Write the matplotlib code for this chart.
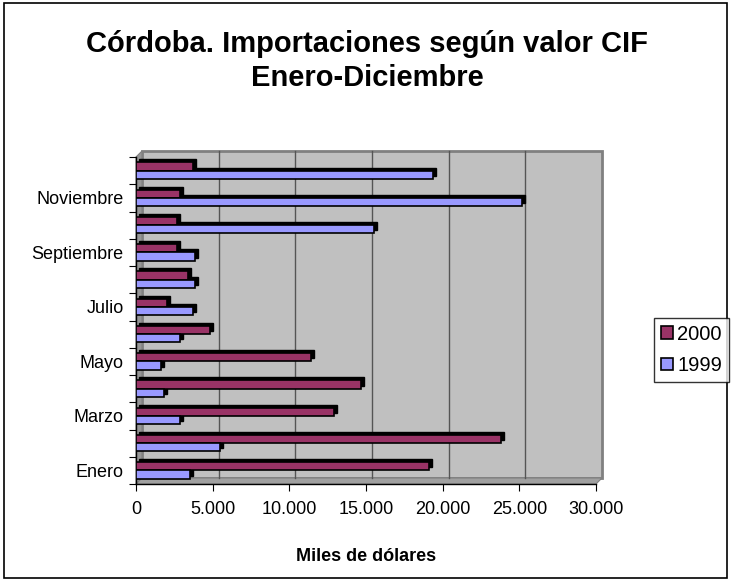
import matplotlib
matplotlib.use("Agg")
import matplotlib.pyplot as plt
import matplotlib.transforms as mtransforms
from matplotlib.patches import Rectangle, Polygon
import numpy as np

plt.rcParams['font.family'] = ['Liberation Sans', 'DejaVu Sans']

# datos (miles de dolares)
meses = ['Enero', 'Febrero', 'Marzo', 'Abril', 'Mayo', 'Junio', 'Julio',
         'Agosto', 'Septiembre', 'Octubre', 'Noviembre', 'Diciembre']
valores_2000 = [19100, 23800, 12900, 14700, 11400, 4800, 2000, 3400, 2700, 2700, 2900, 3700]
valores_1999 = [3500, 5500, 2900, 1800, 1600, 2900, 3700, 3850, 3850, 15500, 25200, 19350]
xticks = [0, 5000, 10000, 15000, 20000, 25000, 30000]

color_2000 = '#993366'
color_1999 = '#9999FF'

fig = plt.figure(figsize=(7.33, 5.84), dpi=100)
W, H = 733, 584

# borde exterior
fig.patches.append(Rectangle((4 / W, 6 / H), 723 / W, 575 / H, transform=fig.transFigure,
                             fill=False, edgecolor='black', linewidth=1.2))

ax = fig.add_axes([136 / W, (H - 484) / H, 460 / W, 327 / H])
ax.set_facecolor('none')
ax.set_xlim(0, 30000)
ax.set_ylim(-0.5, 11.5)

# desplazamiento 3D (pared del fondo)
dx, dy = 6, 6
fondo = mtransforms.offset_copy(ax.transAxes, fig=fig, x=dx, y=dy, units='dots')
ax.add_patch(Rectangle((0, 0), 1, 1, transform=fondo, facecolor='#C0C0C0',
                       edgecolor='#808080', linewidth=2, zorder=0, clip_on=False))
# pared izquierda y piso
ax.add_patch(Polygon([(0, 0), (0, 1), (dx / 460, 1 + dy / 327), (dx / 460, dy / 327)],
                     closed=True, transform=ax.transAxes, facecolor='#969696',
                     edgecolor='#808080', linewidth=0.8, zorder=0.5, clip_on=False))
ax.add_patch(Polygon([(0, 0), (1, 0), (1 + dx / 460, dy / 327), (dx / 460, dy / 327)],
                     closed=True, transform=ax.transAxes, facecolor='#A0A0A0',
                     edgecolor='#808080', linewidth=0.8, zorder=0.5, clip_on=False))

# lineas de la grilla en la pared del fondo
grid_tr = mtransforms.blended_transform_factory(ax.transData, ax.transAxes)
grid_tr = grid_tr + mtransforms.ScaledTranslation(dx / 100, dy / 100, fig.dpi_scale_trans)
for xv in xticks[1:-1]:
    ax.plot([xv, xv], [0, 1], transform=grid_tr, color='#555555', linewidth=1, zorder=1,
            clip_on=False)

y = np.arange(len(meses))
alto = 0.3

# sombras negras de las barras
sombra = mtransforms.offset_copy(ax.transData, fig=fig, x=3, y=3, units='dots')
for vals, off in [(valores_2000, 0.15), (valores_1999, -0.15)]:
    bs = ax.barh(y + off, vals, height=alto, color='black', edgecolor='black', zorder=2)
    for p in bs:
        p.set_transform(sombra)
        p.set_clip_on(False)

ax.barh(y + 0.15, valores_2000, height=alto, color=color_2000, edgecolor='black',
        linewidth=1.2, zorder=3, label='2000')
ax.barh(y - 0.15, valores_1999, height=alto, color=color_1999, edgecolor='black',
        linewidth=1.2, zorder=3, label='1999')

# ejes
ax.set_yticks(np.arange(-0.5, 12, 1))
ax.set_yticklabels([])
ax.set_yticks(y[::2], minor=True)
ax.set_yticklabels(meses[::2], minor=True, fontsize=13)
ax.tick_params(axis='y', which='minor', length=0, pad=9)
ax.tick_params(axis='y', which='major', length=5, direction='out')
ax.set_xticks(xticks)
ax.set_xticklabels([f'{v:,}'.replace(',', '.') for v in xticks], fontsize=13)
ax.tick_params(axis='x', length=5, direction='out', pad=7)
for s in ['top', 'right']:
    ax.spines[s].set_visible(False)
ax.spines['left'].set_linewidth(1)
ax.spines['bottom'].set_linewidth(1)

ax.set_xlabel('Miles de dólares', fontsize=13, fontweight='bold', labelpad=22)

fig.text(367 / W, 1 - 61 / H, 'Córdoba. Importaciones según valor CIF\nEnero-Diciembre',
         ha='center', va='center', fontsize=21, fontweight='bold', linespacing=1.3)

# leyenda
leg = fig.legend(loc='center left', bbox_to_anchor=(654 / W, 1 - 350 / H), fontsize=14.5,
                 frameon=True, fancybox=False, edgecolor='black', handlelength=0.6,
                 handleheight=0.6, handletextpad=0.2, borderpad=0.35, labelspacing=0.6,
                 borderaxespad=0)
leg.get_frame().set_linewidth(1)

fig.savefig('out.png', dpi=100)
